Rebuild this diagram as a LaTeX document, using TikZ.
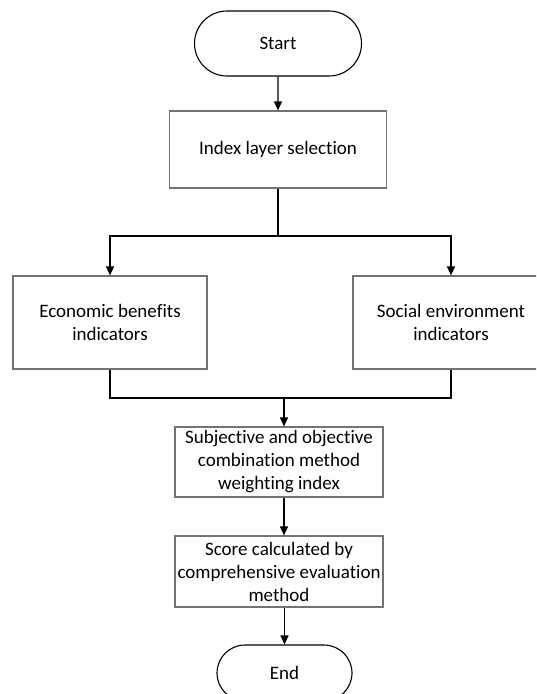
\documentclass[tikz,border=0pt]{standalone}
\usepackage{fontspec}
\setmainfont{Carlito}[Ligatures=NoCommon]
\usetikzlibrary{shapes.misc,arrows.meta}

\tikzset{
  box/.style={draw=black!55, line width=1.2pt, align=center, inner sep=0pt},
  term/.style={draw=black, line width=1.1pt, rounded rectangle, align=center, inner sep=0pt},
  flow/.style={draw=black, line width=1.2pt},
  arr/.style={flow, -{Triangle[width=8pt,length=9pt]}}
}

\begin{document}
\begin{tikzpicture}[x=1pt, y=-1pt, font=\fontsize{19}{23}\selectfont]
     \useasboundingbox (0,0) rectangle (536,694);
     \begin{scope}
     \clip (0,0) rectangle (536,694);
     \node[term, minimum width=167pt, minimum height=65pt] (start) at (278,43.5) {Start};
     \node[box, minimum width=217pt, minimum height=77pt] (index) at (278,149.5) {Index layer selection};
     \node[box, minimum width=194pt, minimum height=93pt] (econ) at (110,322.5) {Economic benefits\\indicators};
     \node[box, minimum width=196pt, minimum height=93pt] (soc) at (451,322.5) {Social environment\\indicators};
     \node[box, minimum width=208pt, minimum height=70pt] (subj) at (279,462) {Subjective and objective\\combination method\\weighting index};
     \node[box, minimum width=208pt, minimum height=71pt] (score) at (279,571.5) {Score calculated by\\comprehensive evaluation\\method};
     \node[term, minimum width=135pt, minimum height=56pt] (end) at (284.5,673) {End};
     \coordinate (split) at (278,236);
     \coordinate (merge) at (284,398);
     \draw[arr] (start) -- (index);
     \draw[flow] (index.south) -- (split);
     \draw[arr] (split) -| (econ.north);
     \draw[arr] (split) -| (soc.north);
     \draw[flow] (econ.south) |- (merge);
     \draw[flow] (soc.south) |- (merge);
     \draw[arr] (merge) -- (merge |- subj.north);
     \draw[arr] (merge |- subj.south) -- (merge |- score.north);
     \draw[arr] (end.north |- score.south) -- (end.north);
     \end{scope}
\end{tikzpicture}
\end{document}
